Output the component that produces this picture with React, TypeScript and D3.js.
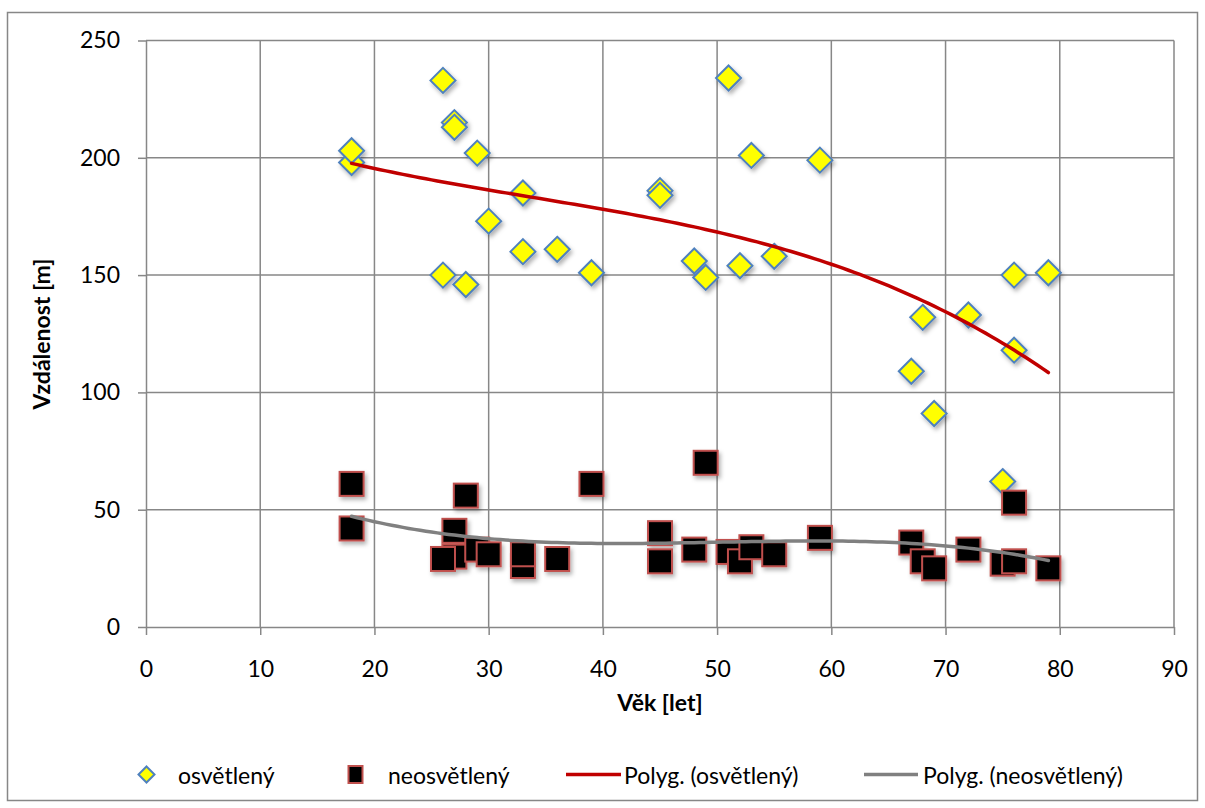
import React, { useEffect, useRef } from 'react';
import * as d3 from 'd3';

// osvětlený (lit) – age [years] and distance [m]
const litAge = [18, 18, 26, 27, 27, 29, 30, 33, 33, 36, 39, 26, 28, 45, 45, 48, 49, 51, 52, 53, 55, 59, 67, 68, 69, 72, 75, 76, 76, 79];
const litDist = [198, 203, 233, 215, 213, 202, 173, 185, 160, 161, 151, 150, 146, 186, 184, 156, 149, 234, 154, 201, 158, 199, 109, 132, 91, 133, 62, 150, 118, 151];

// neosvětlený (unlit)
const darkAge = [18, 18, 27, 26, 27, 28, 29, 30, 33, 33, 36, 39, 45, 45, 48, 49, 51, 52, 53, 55, 59, 67, 68, 69, 72, 75, 76, 76, 79];
const darkDist = [61, 42, 30, 29, 41, 56, 33, 31, 26, 31, 29, 61, 40, 28, 33, 70, 32, 28, 34, 31, 38, 36, 28, 25, 33, 27, 28, 53, 25];

const xTicks = [0, 10, 20, 30, 40, 50, 60, 70, 80, 90];
const yTicks = [0, 50, 100, 150, 200, 250];
const legendLabels = ['osvětlený', 'neosvětlený', 'Polyg. (osvětlený)', 'Polyg. (neosvětlený)'];
const xTitle = 'Věk [let]';
const yTitle = 'Vzdálenost [m]';

const FONT = 'Lato, "Liberation Sans", sans-serif';
const GRID = '#878787';

// least squares polynomial, like the Excel "Polyg." trendline
function polyFit(xs: number[], ys: number[], order: number) {
    const n = order + 1;
    const m: number[][] = [];
    for (let r = 0; r < n; r++) {
        const row: number[] = [];
        for (let c = 0; c < n; c++) row.push(d3.sum(xs, x => Math.pow(x, r + c)));
        row.push(d3.sum(xs, (x, i) => Math.pow(x, r) * ys[i]));
        m.push(row);
    }
    for (let i = 0; i < n; i++) {
        let p = i;
        for (let k = i + 1; k < n; k++) if (Math.abs(m[k][i]) > Math.abs(m[p][i])) p = k;
        [m[i], m[p]] = [m[p], m[i]];
        for (let k = i + 1; k < n; k++) {
            const f = m[k][i] / m[i][i];
            for (let c = i; c <= n; c++) m[k][c] -= f * m[i][c];
        }
    }
    const coef = new Array(n).fill(0);
    for (let i = n - 1; i >= 0; i--) {
        let s = m[i][n];
        for (let c = i + 1; c < n; c++) s -= m[i][c] * coef[c];
        coef[i] = s / m[i][i];
    }
    return (x: number) => coef.reduce((acc, a, i) => acc + a * Math.pow(x, i), 0);
}

export default function App() {
    const ref = useRef<SVGSVGElement>(null);

    useEffect(() => {
        const svg = d3.select(ref.current);
        svg.selectAll('*').remove();

        const left = 146, right = 1174, top = 40.5, bottom = 627;
        const xScale = d3.scaleLinear().domain([0, 90]).range([left, right]);
        const yScale = d3.scaleLinear().domain([0, 250]).range([bottom, top]);

        const defs = svg.append('defs');
        const filter = defs.append('filter').attr('id', 'shadow')
            .attr('x', '-50%').attr('y', '-50%').attr('width', '200%').attr('height', '200%');
        filter.append('feDropShadow').attr('dx', 2).attr('dy', 3)
            .attr('stdDeviation', 2).attr('flood-color', '#000').attr('flood-opacity', 0.3);

        svg.append('rect')
            .attr('x', 7.5).attr('y', 12.5).attr('width', 1190).attr('height', 788)
            .attr('fill', '#fff').attr('stroke', GRID).attr('stroke-width', 1.5);

        // grid
        const grid = svg.append('g');
        grid.selectAll('.gx').data(xTicks.slice(1)).enter().append('line')
            .attr('x1', d => xScale(d)).attr('x2', d => xScale(d))
            .attr('y1', top).attr('y2', bottom)
            .attr('stroke', GRID).attr('stroke-width', 1.5);
        grid.selectAll('.gy').data(yTicks.slice(1)).enter().append('line')
            .attr('x1', left).attr('x2', right)
            .attr('y1', d => yScale(d)).attr('y2', d => yScale(d))
            .attr('stroke', GRID).attr('stroke-width', 1.5);

        // axes
        const xAxis = svg.append('g').attr('transform', `translate(0,${bottom})`)
            .call(d3.axisBottom(xScale).tickValues(xTicks).tickSize(8).tickSizeOuter(0).tickPadding(26));
        const yAxis = svg.append('g').attr('transform', `translate(${left},0)`)
            .call(d3.axisLeft(yScale).tickValues(yTicks).tickSize(8).tickSizeOuter(0).tickPadding(18));
        [xAxis, yAxis].forEach(ax => {
            ax.select('.domain').attr('stroke', GRID).attr('stroke-width', 1.5);
            ax.selectAll('.tick line').attr('stroke', GRID).attr('stroke-width', 1.5);
            ax.selectAll('.tick text').attr('fill', '#000')
                .style('font-family', FONT).style('font-size', '23px');
        });

        // lit series (diamonds)
        const diamond = (cx: number, cy: number, r: number) =>
            `M${cx},${cy - r}L${cx + r},${cy}L${cx},${cy + r}L${cx - r},${cy}Z`;
        svg.append('g').attr('filter', 'url(#shadow)')
            .selectAll('path').data(litAge).enter().append('path')
            .attr('d', (d, i) => diamond(xScale(d), yScale(litDist[i]), 12.5))
            .attr('fill', '#ffff00').attr('stroke', '#4f81bd').attr('stroke-width', 2);

        // unlit series (squares)
        svg.append('g').attr('filter', 'url(#shadow)')
            .selectAll('rect').data(darkAge).enter().append('rect')
            .attr('x', d => xScale(d) - 12).attr('y', (d, i) => yScale(darkDist[i]) - 12)
            .attr('width', 24).attr('height', 24)
            .attr('fill', '#000').attr('stroke', '#c0504d').attr('stroke-width', 2);

        // trendlines
        const trend = (xs: number[], ys: number[], color: string) => {
            const f = polyFit(xs, ys, 3);
            const [x0, x1] = d3.extent(xs) as [number, number];
            const pts = d3.range(x0, x1 + 0.001, 0.5).map(x => [x, f(x)] as [number, number]);
            svg.append('path')
                .attr('d', d3.line().x(d => xScale(d[0])).y(d => yScale(d[1]))(pts))
                .attr('fill', 'none').attr('stroke', color).attr('stroke-width', 3.5)
                .attr('stroke-linecap', 'round');
        };
        trend(litAge, litDist, '#c00000');
        trend(darkAge, darkDist, '#808080');

        // axis titles
        svg.append('text').attr('x', 660).attr('y', 711).attr('text-anchor', 'middle')
            .style('font-family', FONT).style('font-size', '23px').style('font-weight', 'bold')
            .text(xTitle);
        svg.append('text').attr('transform', 'translate(50,334) rotate(-90)').attr('text-anchor', 'middle')
            .style('font-family', FONT).style('font-size', '23px').style('font-weight', 'bold')
            .text(yTitle);

        // legend
        const ly = 774.5;
        const legend = svg.append('g');
        legend.append('path').attr('d', diamond(146.5, ly, 8))
            .attr('fill', '#ffff00').attr('stroke', '#4f81bd').attr('stroke-width', 2);
        legend.append('rect').attr('x', 348.5).attr('y', ly - 8.5).attr('width', 14).attr('height', 17)
            .attr('fill', '#000').attr('stroke', '#c0504d').attr('stroke-width', 2);
        legend.append('line').attr('x1', 566).attr('x2', 621).attr('y1', ly).attr('y2', ly)
            .attr('stroke', '#c00000').attr('stroke-width', 3.5);
        legend.append('line').attr('x1', 864).attr('x2', 918).attr('y1', ly).attr('y2', ly)
            .attr('stroke', '#808080').attr('stroke-width', 3.5);
        const textX = [178, 388, 624, 923];
        legend.selectAll('text').data(legendLabels).enter().append('text')
            .attr('x', (d, i) => textX[i]).attr('y', ly + 9)
            .style('font-family', FONT).style('font-size', '23px')
            .text(d => d);
    }, []);

    return (
        <svg ref={ref} width={1205} height={808}
            style={{ position: 'absolute', left: 0, top: 0, display: 'block' }} />
    );
}
